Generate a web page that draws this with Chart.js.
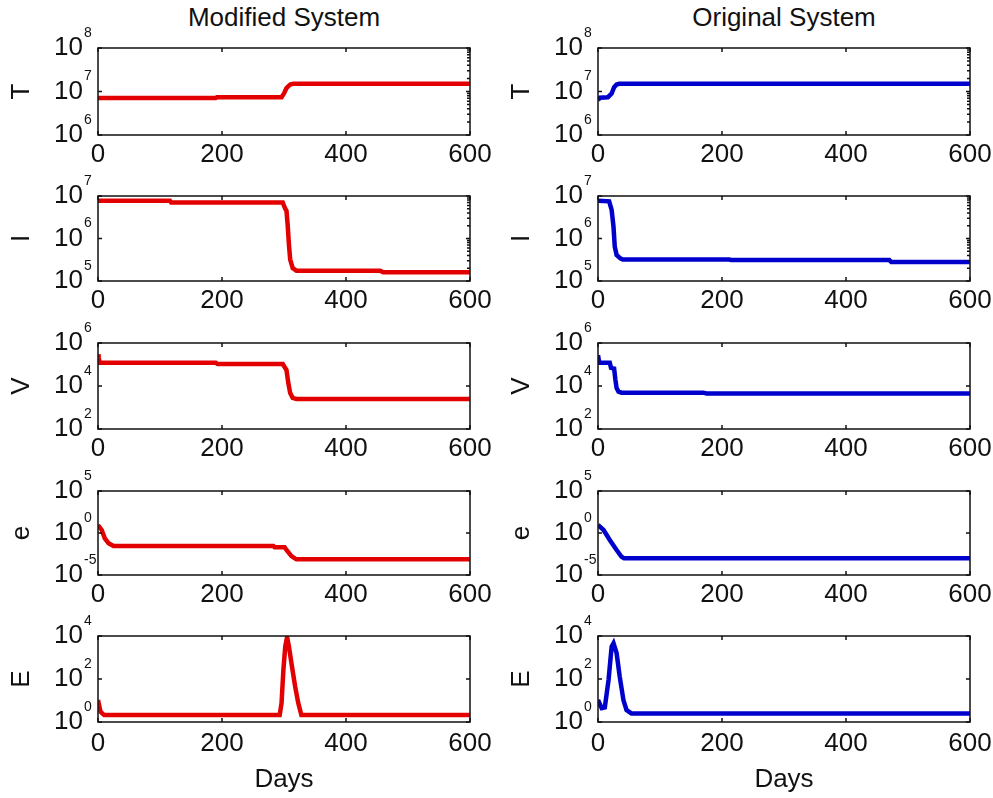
<!DOCTYPE html>
<html>
<head>
<meta charset="utf-8">
<script src="https://cdn.jsdelivr.net/npm/chart.js@4.4.0/dist/chart.umd.min.js"></script>
<style>
  body { margin: 0; background: #fff; width: 993px; height: 798px; position: relative; overflow: hidden;
         font-family: "Liberation Sans", Arial, sans-serif; }
  canvas { position: absolute; }
  .title { position: absolute; top: 0; width: 372px; line-height: 34px; font-size: 26px; color: #111; text-align: center; }
</style>
</head>
<body>
<div class="title" style="left:98px">Modified System</div>
<div class="title" style="left:598px">Original System</div>
<script>
// modified system (red, left column)
const modT_days = [0, 190, 192, 296, 300, 304, 310, 315, 600];
const modT      = [7.1e6, 7.1e6, 7.4e6, 7.4e6, 9e6, 1.2e7, 1.45e7, 1.5e7, 1.5e7];
const modI_days = [0, 116, 118, 298, 302, 304, 306, 308, 310, 314, 320, 455, 460, 600];
const modI      = [7.7e6, 7.7e6, 7.0e6, 7.0e6, 5e6, 4.5e6, 2e6, 7e5, 3.2e5, 2e5, 1.75e5, 1.75e5, 1.6e5, 1.6e5];
const modV_days = [0, 1, 3, 190, 193, 298, 304, 307, 310, 314, 320, 600];
const modV      = [3e5, 2e5, 1.2e5, 1.2e5, 1.05e5, 1.05e5, 5.5e4, 1.35e4, 4.7e3, 2.8e3, 2.5e3, 2.5e3];
const mode_days = [0, 6, 11, 17, 25, 283, 285, 301, 304, 312, 320, 600];
const mode      = [9, 2.3, 0.23, 0.06, 0.028, 0.028, 0.02, 0.02, 0.0095, 0.0018, 0.00074, 0.00074];
const modE_days = [0, 4, 10, 293, 296, 299, 302, 305, 308, 312, 318, 323, 328, 600];
const modE      = [10.5, 3, 2.1, 2.1, 7.4, 260, 3200, 8900, 3200, 550, 44, 7.6, 2.1, 2.1];

// original system (blue, right column)
const origT_days = [0, 3, 16, 22, 26, 30, 34, 600];
const origT      = [6.3e6, 7.2e6, 7.4e6, 9e6, 1.25e7, 1.45e7, 1.5e7, 1.5e7];
const origI_days = [0, 18, 22, 25, 27, 30, 36, 40, 212, 215, 470, 473, 600];
const origI      = [7.7e6, 7.5e6, 4.7e6, 1.9e6, 6.5e5, 4.1e5, 3.4e5, 3.2e5, 3.2e5, 3.1e5, 3.1e5, 2.8e5, 2.8e5];
const origV_days = [0, 2, 19, 21, 26, 28, 30, 33, 38, 170, 175, 600];
const origV      = [2.7e5, 1.2e5, 1.2e5, 7e4, 6.5e4, 2e4, 8e3, 5.5e3, 4.9e3, 4.9e3, 4.5e3, 4.5e3];
const orige_days = [0, 9, 19, 30, 38, 42, 600];
const orige      = [9, 2.3, 0.15, 0.0095, 0.0015, 0.001, 0.001];
const origE_days = [0, 6, 11, 17, 22, 25, 30, 35, 41, 46, 54, 600];
const origE      = [10.5, 4.4, 4.8, 90, 3200, 4600, 1600, 130, 10.5, 3.6, 2.5, 2.5];

// axes
const yLabels = ['T', 'I', 'V', 'e', 'E'];
const yExps = [[6, 7, 8], [5, 6, 7], [2, 4, 6], [-5, 0, 5], [0, 2, 4]];
const xTicks = [0, 200, 400, 600];

const rows = [
  { mod: [modT_days, modT], orig: [origT_days, origT], minor: true },
  { mod: [modI_days, modI], orig: [origI_days, origI], minor: true },
  { mod: [modV_days, modV], orig: [origV_days, origV], minor: false },
  { mod: [mode_days, mode], orig: [orige_days, orige], minor: false },
  { mod: [modE_days, modE], orig: [origE_days, origE], minor: false }
];

const rowTop = [48, 196, 343, 491, 636];
const rowH = [87, 85, 86, 84, 86];
const FONT = '"Liberation Sans", Arial, sans-serif';
const INK = '#111';
const PAD_RIGHT = 36;

// box, inward ticks and 10^n labels drawn the way MATLAB does them
const matlabAxes = {
  id: 'matlabAxes',
  afterDraw(chart, args, opts) {
    const { ctx, chartArea: a, scales: { x, y } } = chart;
    ctx.save();
    ctx.strokeStyle = INK;
    ctx.lineWidth = 1.5;
    ctx.strokeRect(a.left, a.top, a.right - a.left, a.bottom - a.top);
    ctx.beginPath();
    xTicks.forEach(v => {
      const px = x.getPixelForValue(v);
      ctx.moveTo(px, a.bottom); ctx.lineTo(px, a.bottom - 4);
      ctx.moveTo(px, a.top); ctx.lineTo(px, a.top + 4);
    });
    opts.exps.forEach(e => {
      const py = y.getPixelForValue(Math.pow(10, e));
      ctx.moveTo(a.left, py); ctx.lineTo(a.left + 4, py);
      ctx.moveTo(a.right, py); ctx.lineTo(a.right - 4, py);
    });
    if (opts.minor) {
      for (let e = opts.exps[0]; e < opts.exps[opts.exps.length - 1]; e++) {
        for (let m = 2; m <= 9; m++) {
          const py = y.getPixelForValue(m * Math.pow(10, e));
          ctx.moveTo(a.right, py); ctx.lineTo(a.right - 3, py);
        }
      }
    }
    ctx.stroke();

    ctx.fillStyle = INK;
    ctx.textBaseline = 'middle';
    opts.exps.forEach(e => {
      const py = y.getPixelForValue(Math.pow(10, e));
      ctx.font = '26px ' + FONT;
      ctx.textAlign = 'right';
      ctx.fillText('10', a.left - 15, py);
      ctx.font = '14px ' + FONT;
      ctx.textAlign = 'left';
      ctx.fillText(String(e), a.left - 14, py - 15);
    });
    ctx.restore();
  }
};

function makeChart(col, r) {
  const row = rows[r];
  const [days, vals] = col === 0 ? row.mod : row.orig;
  const color = col === 0 ? 'rgb(226,0,0)' : 'rgb(0,0,205)';
  const padTop = 32;
  const top = rowTop[r], h = rowH[r];
  const below = r === 4 ? 798 - (top + h) : 44;
  const W = 470 + PAD_RIGHT;

  const canvas = document.createElement('canvas');
  canvas.width = W;
  canvas.height = padTop + h + below;
  canvas.style.left = (col === 0 ? 0 : 500) + 'px';
  canvas.style.top = (top - padTop) + 'px';
  document.body.appendChild(canvas);

  new Chart(canvas.getContext('2d'), {
    type: 'line',
    data: {
      datasets: [{
        data: days.map((d, i) => ({ x: d, y: vals[i] })),
        borderColor: color,
        borderWidth: 4.5,
        pointRadius: 0,
        tension: 0,
        fill: false
      }]
    },
    options: {
      responsive: false,
      animation: false,
      events: [],
      layout: { padding: { top: padTop, right: PAD_RIGHT, left: 0, bottom: 0 } },
      plugins: {
        legend: { display: false },
        tooltip: { enabled: false },
        matlabAxes: { exps: yExps[r], minor: row.minor }
      },
      scales: {
        x: {
          type: 'linear',
          min: 0,
          max: 600,
          afterFit: s => { s.height = below; },
          grid: { display: false, drawTicks: false },
          border: { display: false },
          ticks: { stepSize: 200, autoSkip: false, maxRotation: 0, padding: r === 4 ? 6 : 4, color: INK, font: { family: FONT, size: 26 } },
          title: { display: r === 4, text: 'Days', color: INK, font: { family: FONT, size: 26 }, padding: { top: 0, bottom: 3 } }
        },
        y: {
          type: 'logarithmic',
          min: Math.pow(10, yExps[r][0]),
          max: Math.pow(10, yExps[r][2]),
          afterFit: s => { s.width = 98; },
          grid: { display: false, drawTicks: false },
          border: { display: false },
          ticks: { display: false },
          title: { display: true, text: yLabels[r], color: INK, font: { family: FONT, size: 26 }, padding: { top: 6, bottom: 0 } }
        }
      }
    },
    plugins: [matlabAxes]
  });
}

for (let r = 0; r < rows.length; r++) {
  makeChart(0, r);
  makeChart(1, r);
}
</script>
</body>
</html>
